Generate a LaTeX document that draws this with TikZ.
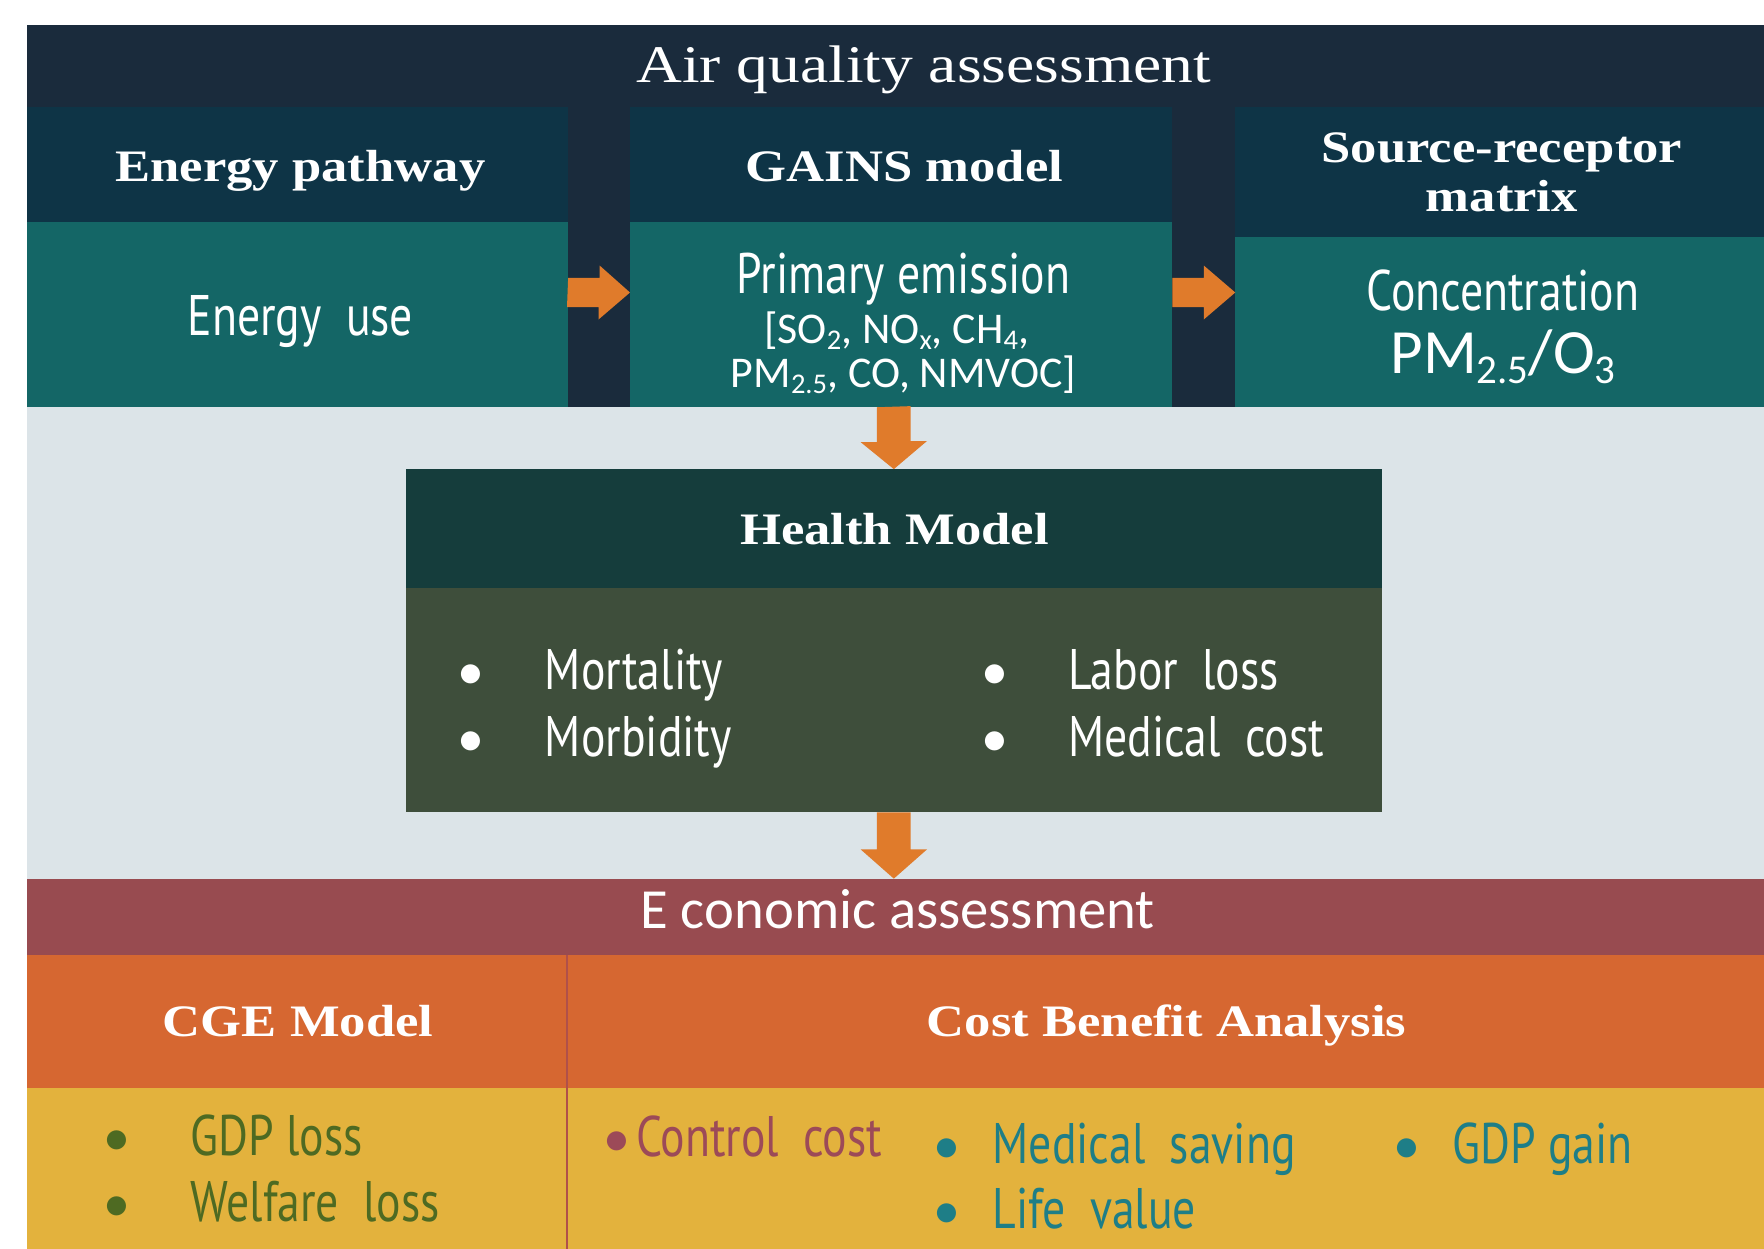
\documentclass[tikz,border=0pt]{standalone}
\usepackage{fontspec}
\setmainfont{Liberation Serif}
\newfontfamily\hdfont[FakeStretch=1.17]{Liberation Serif}
\newfontfamily\airfont[FakeStretch=1.2]{Liberation Serif}
\newfontfamily\condfont[FakeStretch=0.8]{PT Sans}
\newfontfamily\calfont{Carlito}
\usetikzlibrary{calc,fit}
\newcommand\sbs[1]{\raisebox{-0.32ex}{\scalebox{0.65}{#1}}}
\definecolor{cNavy}{HTML}{1A2B3C}
\definecolor{cHead}{HTML}{0E3446}
\definecolor{cBody}{HTML}{146666}
\definecolor{cGrey}{HTML}{DCE4E8}
\definecolor{cHmHead}{HTML}{153D3C}
\definecolor{cHmBody}{HTML}{3E4E3B}
\definecolor{cArrow}{HTML}{E07B2B}
\definecolor{cMaroon}{HTML}{984B50}
\definecolor{cOrange}{HTML}{D66731}
\definecolor{cYellow}{HTML}{E3B23D}
\definecolor{cDivider}{HTML}{B0504A}
\definecolor{cOlive}{HTML}{4E6A22}
\definecolor{cCtrl}{HTML}{9C4A58}
\definecolor{cTealTxt}{HTML}{1E7E87}
\tikzset{
  panel/.style={inner sep=0pt, outer sep=0pt, draw=none},
  hdr/.style={font=\hdfont\bfseries\fontsize{20}{24}\selectfont, text=white, anchor=base, inner sep=0pt},
  cnd/.style={font=\condfont\fontsize{25.4}{30}\selectfont, inner sep=0pt},
  calt/.style={font=\calfont\fontsize{19.5}{23}\selectfont, text=white, anchor=base, inner sep=0pt},
  bul/.style={font=\calfont\fontsize{24}{28}\selectfont, anchor=base, inner sep=0pt},
  arr/.style={fill=cArrow, draw=none},
}
\begin{document}
\begin{tikzpicture}[x=0.5pt,y=-0.5pt]
\useasboundingbox (0,0) rectangle (1568,1110);
\fill[white] (0,0) rectangle (1568,1110);
% ---------- air quality block ----------
\node[panel, fill=cNavy, fit={(24,22) (1568,362)}] (aq) {};
\node[panel, fill=cHead, fit={(24,95) (505,197)}] (h1) {};
\node[panel, fill=cHead, fit={(560,95) (1042,197)}] (h2) {};
\node[panel, fill=cHead, fit={(1098,95) (1568,211)}] (h3) {};
\node[panel, fill=cBody, fit={(24,197) (505,362)}] (b1) {};
\node[panel, fill=cBody, fit={(560,197) (1042,362)}] (b2) {};
\node[panel, fill=cBody, fit={(1098,211) (1568,362)}] (b3) {};
% ---------- grey area ----------
\node[panel, fill=cGrey, fit={(24,362) (1568,781)}] (grey) {};
\node[panel, fill=cHmHead, fit={(361,417) (1228,523)}] (hmh) {};
\node[panel, fill=cHmBody, fit={(361,523) (1228,722)}] (hmb) {};
% ---------- economic block ----------
\node[panel, fill=cMaroon, fit={(24,781) (1568,849)}] (eco) {};
\node[panel, fill=cOrange, fit={(24,849) (1568,967)}] (ohd) {};
\node[panel, fill=cYellow, fit={(24,967) (1568,1110)}] (yel) {};
\draw[cDivider, line width=1pt] (ohd.north west -| 504,0) -- (yel.south west -| 504,0);
% ---------- arrows ----------
\coordinate (a1s) at (b1.east |- 0,260);
\coordinate (a1e) at (b2.west |- 0,260);
\fill[arr] (a1s) ++(0,-13) -- ++(28,0) -- ++(0,-11) -- (a1e) -- ++(-28,24) -- ++(0,-11) -- ++(-28,0) -- cycle;
\coordinate (a2s) at (b2.east |- 0,260);
\coordinate (a2e) at (b3.west |- 0,260);
\fill[arr] (a2s) ++(0,-13) -- ++(28,0) -- ++(0,-11) -- (a2e) -- ++(-28,24) -- ++(0,-11) -- ++(-28,0) -- cycle;
\coordinate (d1s) at (hmh.north |- b2.south);
\coordinate (d1e) at (hmh.north);
\fill[arr] (d1s) ++(-15,0) -- ++(0,31) -- ++(-14.5,0) -- (d1e) -- ++(29.5,-25) -- ++(-14.5,0) -- ++(0,-31) -- cycle;
\coordinate (d2s) at (hmb.south);
\coordinate (d2e) at (hmb.south |- eco.north);
\fill[arr] (d2s) ++(-15,0) -- ++(0,33) -- ++(-14.5,0) -- (d2e) -- ++(29.5,-26) -- ++(-14.5,0) -- ++(0,-33) -- cycle;
% ---------- texts: air quality ----------
\node[font=\airfont\fontsize{23.5}{28}\selectfont, text=white, anchor=base, inner sep=0pt] (taq) at (821,73) {Air quality assessment};
\node[hdr] (th1) at (267,161.5) {Energy pathway};
\node[hdr] (th2) at (804,161.5) {GAINS model};
\node[hdr] (th3a) at (1335,144) {Source-receptor};
\node[hdr] (th3b) at (1335,188) {matrix};
\node[cnd, text=white, anchor=base] (tb1) at (267,298) {Energy\ \ use};
\node[cnd, text=white, anchor=base] (tb2) at (803,261) {Primary\ emission};
\node[calt] (tb2a) at (797,305) {[SO\sbs{2}, NO\sbs{x}, CH\sbs{4},};
\node[calt] (tb2b) at (803,344) {PM\sbs{2.5}, CO, NMVOC]};
\node[cnd, text=white, anchor=base] (tb3) at (1336,276) {Concentration};
\node[calt, font=\calfont\fontsize{28}{32}\selectfont] (tb3a) at (1336,332) {PM\sbs{2.5}/O\sbs{3}};
% ---------- health model ----------
\node[hdr] (thm) at (795,484) {Health Model};
\node[bul, text=white] (hb1) at (419,613) {•};
\node[bul, text=white] (hb2) at (419,672) {•};
\node[bul, text=white] (hb3) at (884,613) {•};
\node[bul, text=white] (hb4) at (884,672) {•};
\node[cnd, text=white, anchor=base west] (hm1) at (484,613) {Mortality};
\node[cnd, text=white, anchor=base west] (hm2) at (484,672) {Morbidity};
\node[cnd, text=white, anchor=base west] (hm3) at (949,613) {Labor\ \ loss};
\node[cnd, text=white, anchor=base west] (hm4) at (949,672) {Medical\ \ cost};
% ---------- economic ----------
\node[calt, font=\calfont\fontsize{25.2}{29}\selectfont] (teco) at (798,825) {E conomic assessment};
\node[hdr] (tcge) at (265,921) {CGE Model};
\node[hdr] (tcba) at (1037,921) {Cost Benefit Analysis};
\node[bul, text=cOlive] (cb1) at (104,1027) {•};
\node[bul, text=cOlive] (cb2) at (104,1086) {•};
\node[cnd, text=cOlive, anchor=base west] (cg1) at (169,1027) {GDP\ loss};
\node[cnd, text=cOlive, anchor=base west] (cg2) at (169,1086) {Welfare\ \ loss};
\node[bul, text=cCtrl] (bb1) at (548,1028) {•};
\node[cnd, text=cCtrl, anchor=base west] (cc1) at (565,1028) {Control\ \ cost};
\node[bul, text=cTealTxt] (bb2) at (842,1034) {•};
\node[bul, text=cTealTxt] (bb3) at (842,1092) {•};
\node[bul, text=cTealTxt] (bb4) at (1251,1034) {•};
\node[cnd, text=cTealTxt, anchor=base west] (cc2) at (882,1034) {Medical\ \ saving};
\node[cnd, text=cTealTxt, anchor=base west] (cc3) at (882,1092) {Life\ \ value};
\node[cnd, text=cTealTxt, anchor=base west] (cc4) at (1291,1034) {GDP gain};
\end{tikzpicture}
\end{document}
